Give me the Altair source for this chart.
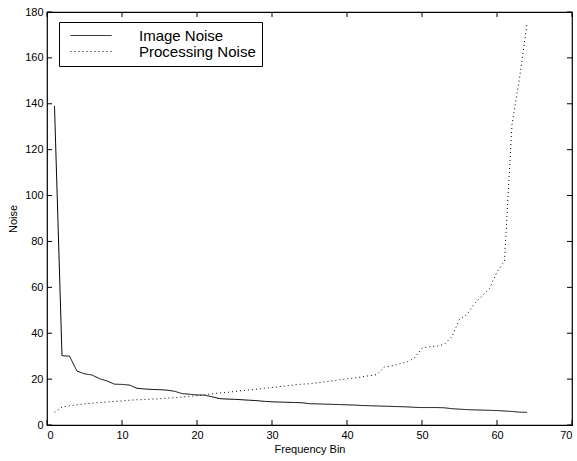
import altair as alt
import pandas as pd

freq_bin = list(range(1, 65))
image_noise = [139.0, 30.2, 30.0, 23.5, 22.3, 21.8, 20.2, 19.2, 17.8, 17.7,
               17.4, 16.0, 15.7, 15.5, 15.4, 15.2, 14.7, 13.7, 13.4, 13.1,
               13.0, 12.3, 11.5, 11.3, 11.2, 11.0, 10.8, 10.6, 10.3, 10.1,
               10.0, 9.9, 9.8, 9.7, 9.3, 9.2, 9.1, 9.0, 8.9, 8.8,
               8.7, 8.5, 8.4, 8.3, 8.2, 8.1, 8.0, 7.9, 7.7, 7.6,
               7.6, 7.6, 7.5, 7.1, 6.9, 6.7, 6.6, 6.5, 6.4, 6.3,
               6.1, 5.9, 5.6, 5.5]
processing_noise = [5.5, 7.8, 8.4, 8.8, 9.2, 9.5, 9.8, 10.0, 10.3, 10.5,
                    10.8, 11.0, 11.1, 11.3, 11.4, 11.7, 11.9, 12.2, 12.5, 12.8,
                    13.2, 13.6, 14.0, 14.2, 14.6, 15.0, 15.3, 15.6, 16.0, 16.3,
                    16.7, 17.1, 17.5, 17.8, 18.0, 18.4, 18.8, 19.2, 19.7, 20.1,
                    20.5, 21.0, 21.5, 22.0, 25.3, 25.8, 26.6, 27.5, 29.2, 33.5,
                    34.1, 34.4, 35.2, 38.6, 46.1, 48.2, 52.9, 56.2, 59.5, 66.7,
                    71.5, 131.0, 151.0, 175.0]
series_names = ["Image Noise", "Processing Noise"]
x_ticks = [0, 10, 20, 30, 40, 50, 60, 70]
y_ticks = [0, 20, 40, 60, 80, 100, 120, 140, 160, 180]

rows = []
for name, vals in zip(series_names, [image_noise, processing_noise]):
    for b, v in zip(freq_bin, vals):
        rows.append({"bin": b, "noise": v, "series": name})
df = pd.DataFrame(rows)

W, H = 525, 413
FONT = "Liberation Sans"

xscale = alt.Scale(domain=[0, 70], nice=False, zero=False)
yscale = alt.Scale(domain=[0, 180], nice=False, zero=False)

x_axis = alt.Axis(values=x_ticks, title="Frequency Bin", tickSize=0,
                  grid=False, domain=False, labelPadding=4,
                  labelFontSize=11, titleFontSize=11, titleFontWeight="normal",
                  titlePadding=3, labelFont=FONT, titleFont=FONT,
                  labelColor="black", titleColor="black")
y_axis = alt.Axis(values=y_ticks, title="Noise", tickSize=0,
                  grid=False, domain=False, labelPadding=4,
                  labelFontSize=11, titleFontSize=11, titleFontWeight="normal",
                  titlePadding=6, labelFont=FONT, titleFont=FONT,
                  labelColor="black", titleColor="black")

lines = alt.Chart(df).mark_line(color="black", strokeWidth=1).encode(
    x=alt.X("bin:Q", scale=xscale, axis=x_axis),
    y=alt.Y("noise:Q", scale=yscale, axis=y_axis),
    strokeDash=alt.StrokeDash(
        "series:N",
        scale=alt.Scale(domain=series_names, range=[[1, 0], [1, 3]]),
        legend=alt.Legend(orient="none", legendX=12, legendY=10, title=None,
                          symbolType="stroke", symbolSize=1681,
                          symbolStrokeWidth=1, symbolStrokeColor="black",
                          clipHeight=15, rowPadding=0,
                          labelFontSize=15, labelFont=FONT, labelColor="black",
                          labelOffset=27, symbolOffset=5, padding=6,
                          strokeColor="black", fillColor="white")),
)

tick_x = pd.DataFrame({"t": x_ticks})
tick_y = pd.DataFrame({"t": y_ticks})

bottom = alt.Chart(tick_x).mark_rule(color="black", strokeWidth=1).encode(
    x=alt.X("t:Q", scale=xscale, axis=x_axis), y=alt.value(H), y2=alt.value(H - 5))
top = alt.Chart(tick_x).mark_rule(color="black", strokeWidth=1).encode(
    x=alt.X("t:Q", scale=xscale, axis=x_axis), y=alt.value(0), y2=alt.value(5))
left = alt.Chart(tick_y).mark_rule(color="black", strokeWidth=1).encode(
    y=alt.Y("t:Q", scale=yscale, axis=y_axis), x=alt.value(0), x2=alt.value(5))
right = alt.Chart(tick_y).mark_rule(color="black", strokeWidth=1).encode(
    y=alt.Y("t:Q", scale=yscale, axis=y_axis), x=alt.value(W), x2=alt.value(W - 5))

chart = alt.layer(lines, bottom, top, left, right).properties(
    width=W, height=H,
    autosize=alt.AutoSizeParams(type="none"),
    padding={"left": 47, "top": 12, "right": 5, "bottom": 36},
    background="white",
).configure_view(stroke="black", strokeWidth=1.2)

chart.save("out.html", embed_options={"renderer": "svg", "actions": False})
